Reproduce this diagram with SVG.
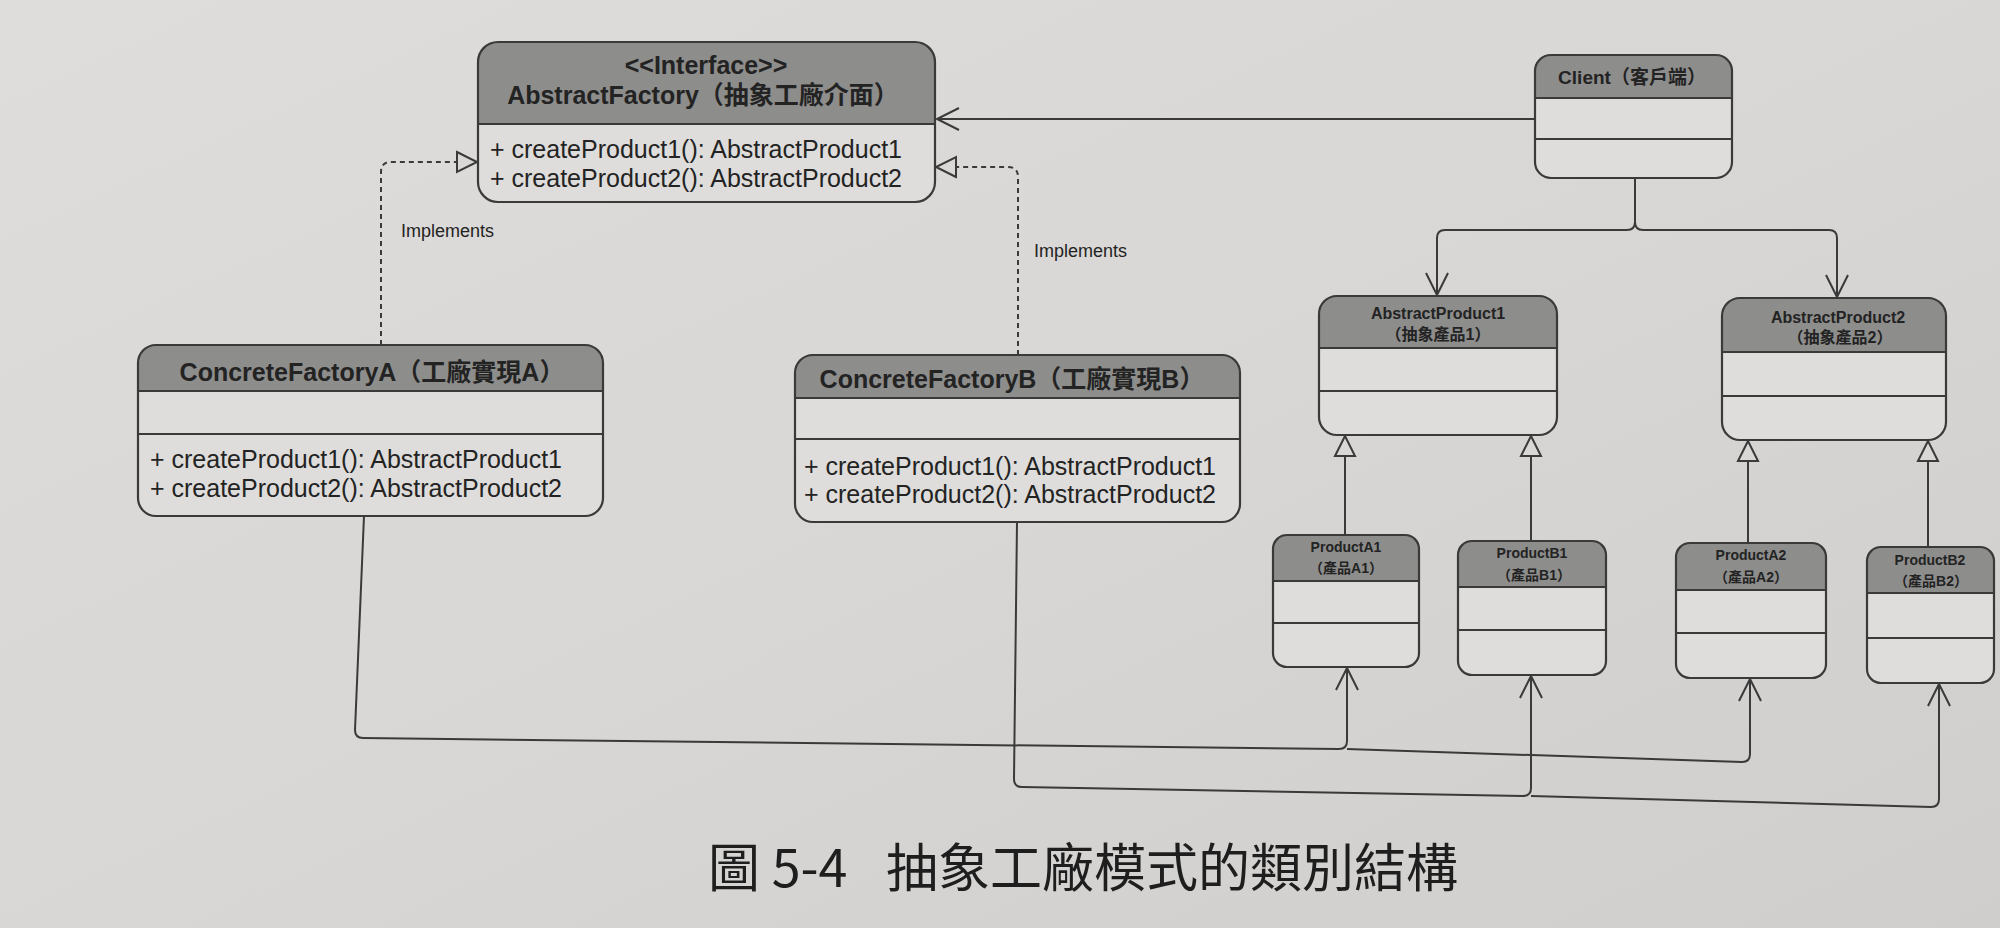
<svg xmlns="http://www.w3.org/2000/svg" width="2000" height="928" viewBox="0 0 2000 928">
<defs>
<linearGradient id="bg" x1="0" y1="0" x2="1" y2="1">
<stop offset="0" stop-color="#dedddb"/>
<stop offset="0.5" stop-color="#d8d7d5"/>
<stop offset="1" stop-color="#cfcecc"/>
</linearGradient>
<marker id="tri" markerUnits="userSpaceOnUse" markerWidth="24" markerHeight="24" refX="21" refY="11" orient="auto" overflow="visible">
<path d="M1,1 L21,11 L1,21 Z" fill="#d9d8d6" stroke="#3a3a3a" stroke-width="2" stroke-dasharray="none"/>
</marker>
<marker id="open" markerUnits="userSpaceOnUse" markerWidth="24" markerHeight="24" refX="22" refY="11" orient="auto" overflow="visible">
<path d="M0,0 L22,11 L0,22" fill="none" stroke="#3a3a3a" stroke-width="2" stroke-dasharray="none"/>
</marker>
</defs>
<style>
.body{fill:#dedddb;stroke:none}
.head{fill:#8d8d8c;stroke:none}
.frame{fill:none;stroke:#3a3a3a;stroke-width:2.2}
.sep{stroke:#3a3a3a;stroke-width:2.2}
text{font-family:'Liberation Sans','Noto Sans CJK TC',sans-serif;fill:#232323}
.h25{font-size:25px;font-weight:bold;text-anchor:middle}
.m25{font-size:25px}
.h19{font-size:19px;font-weight:bold;text-anchor:middle}
.h16{font-size:16px;font-weight:bold;text-anchor:middle}
.h14{font-size:14px;font-weight:bold;text-anchor:middle}
.lbl{font-size:18px}
.cap{font-size:52px;font-family:'Noto Sans CJK TC','Liberation Sans',sans-serif;fill:#1e1e1e}
.conn{fill:none;stroke:#3a3a3a;stroke-width:2}
.dash{stroke-dasharray:5,4}
</style>
<rect x="0" y="0" width="2000" height="928" fill="url(#bg)"/>

<g id="connectors">
<path class="conn" d="M1535,119 L937,119" marker-end="url(#open)"/>
<path class="conn dash" d="M381,345 L381,172 Q381,162 391,162 L477,162" marker-end="url(#tri)"/>
<path class="conn dash" d="M1018,355 L1018,177 Q1018,167 1008,167 L936,167" marker-end="url(#tri)"/>
<path class="conn" d="M1635,178 L1635,222 Q1635,230 1627,230 L1445,230 Q1437,230 1437,238 L1437,295" marker-end="url(#open)"/>
<path class="conn" d="M1635,222 Q1635,230 1643,230 L1829,230 Q1837,230 1837,238 L1837,297" marker-end="url(#open)"/>
<path class="conn" d="M1345,535 L1345,436" marker-end="url(#tri)"/>
<path class="conn" d="M1531,541 L1531,436" marker-end="url(#tri)"/>
<path class="conn" d="M1748,543 L1748,441" marker-end="url(#tri)"/>
<path class="conn" d="M1928,547 L1928,441" marker-end="url(#tri)"/>
<path class="conn" d="M364,516 L355,730 Q355,738 363,738 L1339,749 Q1347,749 1347,741 L1347,668" marker-end="url(#open)"/>
<path class="conn" d="M1347,749 L1742,762 Q1750,762 1750,754 L1750,679" marker-end="url(#open)"/>
<path class="conn" d="M1017,522 L1014,779 Q1014,787 1022,787 L1523,796 Q1531,796 1531,788 L1531,676" marker-end="url(#open)"/>
<path class="conn" d="M1531,796 L1931,807 Q1939,807 1939,799 L1939,684" marker-end="url(#open)"/>
<text class="lbl" x="401" y="237">Implements</text>
<text class="lbl" x="1034" y="257">Implements</text>
</g>

<g id="AbstractFactory">
<rect class="body" x="478" y="42" width="457" height="160" rx="20"/>
<path class="head" d="M478,124 L478,62 Q478,42 498,42 L915,42 Q935,42 935,62 L935,124 Z"/>
<line class="sep" x1="478" y1="124" x2="935" y2="124"/>
<rect class="frame" x="478" y="42" width="457" height="160" rx="20"/>
<text class="h25" x="706" y="74">&lt;&lt;Interface&gt;&gt;</text>
<text class="h25" x="703" y="104">AbstractFactory（抽象工廠介面）</text>
<text class="m25" x="490" y="158">+ createProduct1(): AbstractProduct1</text>
<text class="m25" x="490" y="187">+ createProduct2(): AbstractProduct2</text>
</g>

<g id="Client">
<rect class="body" x="1535" y="55" width="197" height="123" rx="16"/>
<path class="head" d="M1535,98 L1535,71 Q1535,55 1551,55 L1716,55 Q1732,55 1732,71 L1732,98 Z"/>
<line class="sep" x1="1535" y1="98" x2="1732" y2="98"/>
<line class="sep" x1="1535" y1="139" x2="1732" y2="139"/>
<rect class="frame" x="1535" y="55" width="197" height="123" rx="16"/>
<text class="h19" x="1632" y="84">Client（客戶端）</text>
</g>

<g id="ConcreteFactoryA">
<rect class="body" x="138" y="345" width="465" height="171" rx="18"/>
<path class="head" d="M138,391 L138,363 Q138,345 156,345 L585,345 Q603,345 603,363 L603,391 Z"/>
<line class="sep" x1="138" y1="391" x2="603" y2="391"/>
<line class="sep" x1="138" y1="434" x2="603" y2="434"/>
<rect class="frame" x="138" y="345" width="465" height="171" rx="18"/>
<text class="h25" x="372" y="381">ConcreteFactoryA（工廠實現A）</text>
<text class="m25" x="150" y="468">+ createProduct1(): AbstractProduct1</text>
<text class="m25" x="150" y="497">+ createProduct2(): AbstractProduct2</text>
</g>

<g id="ConcreteFactoryB">
<rect class="body" x="795" y="355" width="445" height="167" rx="18"/>
<path class="head" d="M795,398 L795,373 Q795,355 813,355 L1222,355 Q1240,355 1240,373 L1240,398 Z"/>
<line class="sep" x1="795" y1="398" x2="1240" y2="398"/>
<line class="sep" x1="795" y1="439" x2="1240" y2="439"/>
<rect class="frame" x="795" y="355" width="445" height="167" rx="18"/>
<text class="h25" x="1012" y="388">ConcreteFactoryB（工廠實現B）</text>
<text class="m25" x="804" y="475">+ createProduct1(): AbstractProduct1</text>
<text class="m25" x="804" y="503">+ createProduct2(): AbstractProduct2</text>
</g>

<g id="AbstractProduct1">
<rect class="body" x="1319" y="296" width="238" height="139" rx="18"/>
<path class="head" d="M1319,348 L1319,314 Q1319,296 1337,296 L1539,296 Q1557,296 1557,314 L1557,348 Z"/>
<line class="sep" x1="1319" y1="348" x2="1557" y2="348"/>
<line class="sep" x1="1319" y1="391" x2="1557" y2="391"/>
<rect class="frame" x="1319" y="296" width="238" height="139" rx="18"/>
<text class="h16" x="1438" y="319">AbstractProduct1</text>
<text class="h16" x="1438" y="340">（抽象產品1）</text>
</g>

<g id="AbstractProduct2">
<rect class="body" x="1722" y="298" width="224" height="142" rx="18"/>
<path class="head" d="M1722,352 L1722,316 Q1722,298 1740,298 L1928,298 Q1946,298 1946,316 L1946,352 Z"/>
<line class="sep" x1="1722" y1="352" x2="1946" y2="352"/>
<line class="sep" x1="1722" y1="396" x2="1946" y2="396"/>
<rect class="frame" x="1722" y="298" width="224" height="142" rx="18"/>
<text class="h16" x="1838" y="323">AbstractProduct2</text>
<text class="h16" x="1840" y="343">（抽象產品2）</text>
</g>

<g id="ProductA1">
<rect class="body" x="1273" y="535" width="146" height="132" rx="14"/>
<path class="head" d="M1273,581 L1273,549 Q1273,535 1287,535 L1405,535 Q1419,535 1419,549 L1419,581 Z"/>
<line class="sep" x1="1273" y1="581" x2="1419" y2="581"/>
<line class="sep" x1="1273" y1="623" x2="1419" y2="623"/>
<rect class="frame" x="1273" y="535" width="146" height="132" rx="14"/>
<text class="h14" x="1346" y="552">ProductA1</text>
<text class="h14" x="1346" y="573">（產品A1）</text>
</g>

<g id="ProductB1">
<rect class="body" x="1458" y="541" width="148" height="134" rx="14"/>
<path class="head" d="M1458,587 L1458,555 Q1458,541 1472,541 L1592,541 Q1606,541 1606,555 L1606,587 Z"/>
<line class="sep" x1="1458" y1="587" x2="1606" y2="587"/>
<line class="sep" x1="1458" y1="630" x2="1606" y2="630"/>
<rect class="frame" x="1458" y="541" width="148" height="134" rx="14"/>
<text class="h14" x="1532" y="558">ProductB1</text>
<text class="h14" x="1534" y="580">（產品B1）</text>
</g>

<g id="ProductA2">
<rect class="body" x="1676" y="543" width="150" height="135" rx="14"/>
<path class="head" d="M1676,590 L1676,557 Q1676,543 1690,543 L1812,543 Q1826,543 1826,557 L1826,590 Z"/>
<line class="sep" x1="1676" y1="590" x2="1826" y2="590"/>
<line class="sep" x1="1676" y1="633" x2="1826" y2="633"/>
<rect class="frame" x="1676" y="543" width="150" height="135" rx="14"/>
<text class="h14" x="1751" y="560">ProductA2</text>
<text class="h14" x="1751" y="582">（產品A2）</text>
</g>

<g id="ProductB2">
<rect class="body" x="1867" y="547" width="127" height="136" rx="14"/>
<path class="head" d="M1867,593 L1867,561 Q1867,547 1881,547 L1980,547 Q1994,547 1994,561 L1994,593 Z"/>
<line class="sep" x1="1867" y1="593" x2="1994" y2="593"/>
<line class="sep" x1="1867" y1="638" x2="1994" y2="638"/>
<rect class="frame" x="1867" y="547" width="127" height="136" rx="14"/>
<text class="h14" x="1930" y="565">ProductB2</text>
<text class="h14" x="1931" y="586">（產品B2）</text>
</g>

<g id="caption">
<text class="cap" x="708" y="887">圖 5-4<tspan x="886">抽象工廠模式的類別結構</tspan></text>
</g>
</svg>
